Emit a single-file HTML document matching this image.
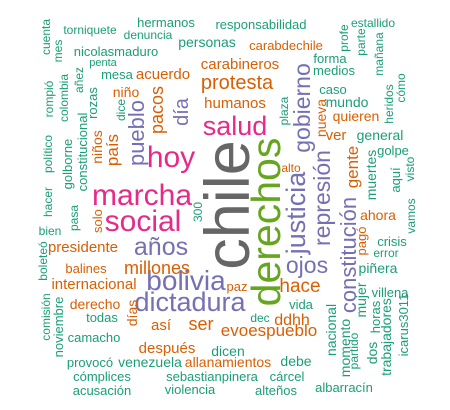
<!DOCTYPE html>
<html><head><meta charset="utf-8"><style>
html,body{margin:0;padding:0;background:#fff;width:450px;height:410px;overflow:hidden}
svg text{font-family:"Liberation Sans",Arial,sans-serif}
</style></head><body>
<svg id="cloud" width="450" height="410" viewBox="0 0 450 410" xmlns="http://www.w3.org/2000/svg"></svg>
<script>
// words, frequency-driven font sizes, color group, rotation flag
const words = ["chile","derechos","marcha","social","hoy","salud","bolivia","dictadura","años","justicia","protesta","gobierno","represión","ojos","constitución","pueblo","millones","ser","hace","evoespueblo","día","pacos","país","gente","ddhh","carabineros","acuerdo","humanos","internacional","presidente","después","así","días","niños","niño","quieren","ver","nueva","ahora","derecho","balines","carabdechile","solo","paz","pagó","alto","personas","hermanos","responsabilidad","nicolasmaduro","mundo","general","medios","forma","caso","golpe","muertes","piñera","crisis","mujer","villena","trabajadores","nacional","momento","venezuela","allanamientos","debe","dicen","vida","dec","cárcel","alteños","albarracín","violencia","sebastianpinera","acusación","cómplices","provocó","camacho","todas","noviembre","comisión","boleteó","bien","pasa","300","hacer","político","golborne","constitucional","rozas","dice","colombia","rompió","añez","mesa","penta","torniquete","denuncia","cuenta","mes","estallido","profe","parte","mañana","heridos","cómo","plaza","aquí","visto","vamos","error","horas","icarus3011","dos","partido"];
const sizes = [63,41,30,30,30,27,28,27,25,27,20,23,23,23,22,22,18,18,19,17,20,18,17,17,16,15,15,15,15,15,15,15,14,14,14,14,15,14,14,14,13,13,13,13,13,12,14,13,13,13,14,14,13,13,13,13,14,14,13,14,13,14,14,14,14,14,14,14,13,12,13,13,13,13,13,13,13,13,13,13,13,12,12,12,12,12,12,12,13,13,13,12,12,12,12,13,11,12,12,12,12,12,12,12,12,12,12,12,13,12,12,12,13,13,14,12];
const groups = ["k","g","p","p","p","p","u","u","u","u","o","u","u","u","u","u","o","o","o","o","u","o","o","o","o","o","o","o","o","o","o","o","o","o","o","o","o","o","o","o","o","o","o","o","o","o","t","t","t","t","t","t","t","t","t","t","t","t","t","t","t","t","t","t","t","o","t","t","t","t","t","t","t","t","t","t","t","t","t","t","t","t","t","t","t","t","t","t","t","t","t","t","t","t","t","t","t","t","t","t","t","t","t","t","t","t","t","t","t","t","t","t","t","t","t","t"];
const rotated = [1,1,0,0,0,0,0,0,0,1,0,1,1,0,1,1,0,0,0,0,1,1,1,1,0,0,0,0,0,0,0,0,1,1,0,0,0,1,0,0,0,0,1,0,1,0,0,0,0,0,0,0,0,0,0,0,1,0,0,1,0,1,1,1,0,0,0,0,0,0,0,0,0,0,0,0,0,0,0,0,1,1,1,0,1,1,1,1,1,1,1,1,1,1,1,0,0,0,0,1,1,0,1,1,1,1,1,1,1,1,1,0,1,1,1,1];
</script>
<script>
// layout (anchor x, baseline y) produced by the cloud placement algorithm
const layout = {"chile":[249,205],"derechos":[280,222],"marcha":[142,205],"social":[143,231],"hoy":[171,167],"salud":[235,135],"bolivia":[186,290],"dictadura":[190,311],"años":[161,255],"justicia":[305,213],"protesta":[237,89],"gobierno":[310,108],"represión":[330,198],"ojos":[307,273],"constitución":[356,255],"pueblo":[144,133],"millones":[157,274],"ser":[201,330],"hace":[300,292],"evoespueblo":[269,336],"día":[188,112],"pacos":[163,110],"país":[118,150],"gente":[358,167],"ddhh":[292,325],"carabineros":[240,69],"acuerdo":[163,79],"humanos":[235,108],"internacional":[94,289],"presidente":[83,252],"después":[167,353],"así":[161,330],"días":[137,313],"niños":[102,147],"niño":[126,97],"quieren":[356,121],"ver":[336,140],"nueva":[326,118],"ahora":[378,220],"derecho":[95,309],"balines":[86,273],"carabdechile":[286,50],"solo":[102,221],"paz":[237,291],"pagó":[366,241],"alto":[291,172],"personas":[207,47],"hermanos":[166,27],"responsabilidad":[261,29],"nicolasmaduro":[116,56],"mundo":[347,107],"general":[380,140],"medios":[334,75],"forma":[330,63],"caso":[333,94],"golpe":[393,155],"muertes":[376,175],"piñera":[378,273],"crisis":[392,246],"mujer":[366,300],"villena":[390,297],"trabajadores":[391,337],"nacional":[336,330],"momento":[350,348],"venezuela":[150,367],"allanamientos":[228,367],"debe":[296,366],"dicen":[228,356],"vida":[301,309],"dec":[260,322],"cárcel":[287,381],"alteños":[276,395],"albarracín":[344,392],"violencia":[190,394],"sebastianpinera":[212,381],"acusación":[102,395],"cómplices":[102,381],"provocó":[90,367],"camacho":[94,342],"todas":[102,322],"noviembre":[63,327],"comisión":[50,317],"boleteó":[47,261],"bien":[50,235],"pasa":[78,218],"300":[202,212],"hacer":[52,202],"político":[52,154],"golborne":[72,164],"constitucional":[87,152],"rozas":[97,103],"dice":[125,110],"colombia":[68,98],"rompió":[53,99],"añez":[83,80],"mesa":[117,79],"penta":[103,66],"torniquete":[90,34],"denuncia":[148,39],"cuenta":[50,37],"mes":[62,51],"estallido":[373,27],"profe":[348,38],"parte":[365,42],"mañana":[383,54],"heridos":[393,104],"cómo":[405,88],"plaza":[288,111],"aquí":[400,180],"visto":[414,169],"vamos":[415,216],"error":[386,257],"horas":[380,317],"icarus3011":[408,325],"dos":[377,353],"partido":[358,351]};
const palette = {k:"#666666",g:"#66A61E",p:"#E7298A",u:"#7570B3",o:"#D95F02",t:"#1B9E77"};
const svg = document.getElementById('cloud');
const NS = "http://www.w3.org/2000/svg";
words.forEach((w,i)=>{
  const pos = layout[w]; if(!pos) return;
  const t = document.createElementNS(NS,'text');
  t.setAttribute('x',pos[0]);
  t.setAttribute('y',pos[1]);
  t.setAttribute('font-size',sizes[i]);
  t.setAttribute('fill',palette[groups[i]]);
  t.setAttribute('text-anchor','middle');
  if(rotated[i]) t.setAttribute('transform','rotate(-90 '+pos[0]+' '+pos[1]+')');
  t.textContent = w;
  
  
  svg.appendChild(t);
});
</script>
</body></html>
